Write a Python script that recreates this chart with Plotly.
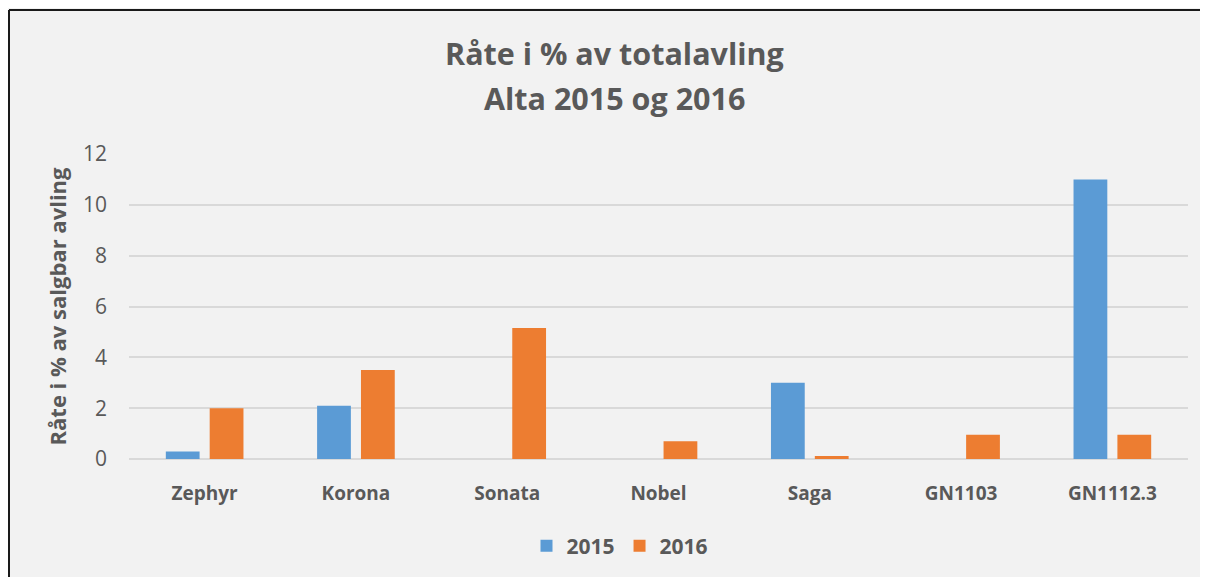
import plotly.graph_objects as go

categories = ["Zephyr", "Korona", "Sonata", "Nobel", "Saga", "GN1103", "GN1112.3"]
values_2015 = [0.3, 2.1, None, None, 3.0, None, 11.0]
values_2016 = [2.0, 3.5, 5.15, 0.7, 0.12, 0.95, 0.95]
y_ticks = [0, 2, 4, 6, 8, 10, 12]
title_lines = ["Råte i % av totalavling", "Alta 2015 og 2016"]

W, H = 1200, 569
L, R, T, B = 121, 20, 146, 117
pw, ph = W - L - R, H - T - B

def px_x(p):
    return (p - L) / pw

def px_y(p):
    return (H - B - p) / ph

grey = "#595959"
font = "Open Sans"

fig = go.Figure()
fig.add_trace(go.Bar(name="2015", x=categories, y=values_2015, marker_color="#5b9bd5",
                     marker_line_width=0))
fig.add_trace(go.Bar(name="2016", x=categories, y=values_2016, marker_color="#ed7d31",
                     marker_line_width=0))

# left and top frame lines
fig.add_shape(type="line", xref="paper", yref="paper",
              x0=px_x(1), x1=px_x(1), y0=px_y(1.5), y1=px_y(620),
              line=dict(color="#1a1a1a", width=2))
fig.add_shape(type="line", xref="paper", yref="paper",
              x0=px_x(1), x1=px_x(1230), y0=px_y(1.5), y1=px_y(1.5),
              line=dict(color="#1a1a1a", width=2))

for line_text, ypix in zip(title_lines, [44.5, 90]):
    fig.add_annotation(text="<b>" + line_text + "</b>", xref="paper", yref="paper",
                       x=px_x(606), y=px_y(ypix), xanchor="center", yanchor="middle",
                       showarrow=False, font=dict(family=font, size=30.5, color=grey))

fig.update_layout(
    width=W, height=H,
    margin=dict(l=L, r=R, t=T, b=B),
    paper_bgcolor="#f2f2f2",
    plot_bgcolor="#f2f2f2",
    barmode="group",
    bargap=0.42,
    bargroupgap=0.23,
    font=dict(family=font, color=grey),
    xaxis=dict(showgrid=False, showline=False, ticks="", ticklabelstandoff=21,
               tickfont=dict(family=font, size=19, color=grey, weight="bold")),
    yaxis=dict(range=[0, 12], tickvals=y_ticks, showgrid=True, gridcolor="#d9d9d9",
               gridwidth=1.5, zeroline=True, zerolinecolor="#d9d9d9", zerolinewidth=1.5,
               ticks="", ticklabelstandoff=21,
               tickfont=dict(family=font, size=21, color=grey),
               title=dict(text="<b>Råte i % av salgbar avling</b>", standoff=10,
                          font=dict(family=font, size=22, color=grey))),
    legend=dict(orientation="h", x=(612 - L) / pw, xanchor="center", y=px_y(538), yanchor="middle",
                font=dict(family=font, size=21, color=grey, weight="bold"),
                bgcolor="rgba(0,0,0,0)", itemwidth=30),
    showlegend=True,
)

fig.write_html("out.html")
